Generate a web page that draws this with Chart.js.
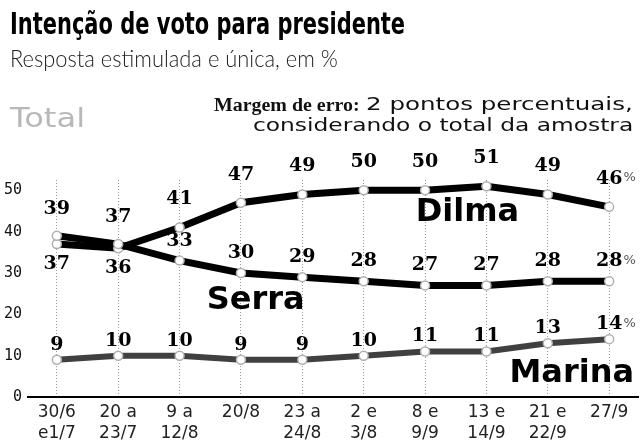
<!DOCTYPE html>
<html><head><meta charset="utf-8">
<script src="https://cdn.jsdelivr.net/npm/chart.js@4"></script>
<style>
html,body{margin:0;padding:0;background:#fff;}
#wrap{position:relative;width:644px;height:446px;overflow:hidden;background:#fff;}
#c{position:absolute;left:0;top:0;}
.t{position:absolute;white-space:nowrap;transform-origin:0 0;line-height:1;}
</style></head><body>
<div id="wrap">
<canvas id="c" width="644" height="446"></canvas>
<div class="t" id="title" data-l="10" data-w="395" style="top:8px;font-family:'DejaVu Sans';font-weight:bold;font-size:31px;color:#000">Intenção de voto para presidente</div>
<div class="t" id="sub" data-l="10" data-w="328" style="top:46px;font-family:Lato,'Open Sans';font-weight:300;font-size:24px;color:#222">Resposta estimulada e única, em %</div>
<div class="t" id="total" data-l="10" data-w="75" style="top:104px;font-family:'DejaVu Sans';font-size:27px;color:#b8b8b8">Total</div>
<div class="t" id="m1a" data-l="214" data-w="146" style="top:96px;font-family:'Liberation Serif';font-weight:bold;font-size:18px;color:#111">Margem de erro:</div>
<div class="t" id="m1b" data-r="633" data-w="267" style="top:96px;font-family:'DejaVu Sans';font-size:17px;color:#111">2 pontos percentuais,</div>
<div class="t" id="m2" data-r="633" data-w="380" style="top:117px;font-family:'DejaVu Sans';font-size:17px;color:#111">considerando o total da amostra</div>
</div>
<script>
const categories = [["30/6","e1/7"],["20 a","23/7"],["9 a","12/8"],["20/8"],["23 a","24/8"],["2 e","3/8"],["8 e","9/9"],["13 e","14/9"],["21 e","22/9"],["27/9"]];
const dilma  = [37,36,41,47,49,50,50,51,49,46];
const serra  = [39,37,33,30,29,28,27,27,28,28];
const marina = [9,10,10,9,9,10,11,11,13,14];
const yTicks = [0,10,20,30,40,50];
const seriesNames = ["Dilma","Serra","Marina"];

document.querySelectorAll('.t').forEach(el=>{
  const w = el.offsetWidth, tw = +el.dataset.w;
  el.style.transform = 'scaleX(' + (tw / w) + ')';
  if (el.dataset.r) el.style.left = (+el.dataset.r - tw) + 'px';
  else el.style.left = el.dataset.l + 'px';
});

const toPts = arr => arr.map((v,i)=>({x:i,y:v}));

const labelPlugin = {
  id:'valueLabels',
  afterDatasetsDraw(chart){
    const ctx = chart.ctx;
    const xs = chart.scales.x, ys = chart.scales.y;
    ctx.save();
    ctx.textAlign='center'; ctx.textBaseline='middle';
    chart.data.datasets.forEach((ds,di)=>{
      const meta = chart.getDatasetMeta(di);
      meta.data.forEach((pt,i)=>{
        const v = ds.data[i].y;
        let dy;
        const close = Math.abs(dilma[i] - serra[i]) <= 2;
        if (ds.key==='dilma') dy = close ? 20 : -28;
        else if (ds.key==='serra') dy = close ? -27 : -20;
        else dy = -15;
        ctx.font = 'bold 19px "DejaVu Serif"';
        ctx.fillStyle = '#000';
        const s = String(v);
        ctx.fillText(s, pt.x, pt.y + dy);
        if (i === ds.data.length-1) {
          const w = ctx.measureText(s).width;
          ctx.font = '13px "DejaVu Sans"';
          ctx.fillStyle = '#555';
          ctx.textAlign='left';
          ctx.fillText('%', pt.x + w/2 + 1, pt.y + dy - 1);
          ctx.textAlign='center';
        }
      });
    });
    ctx.font = 'bold 32px "DejaVu Sans"';
    ctx.fillStyle = '#000';
    ctx.fillText(seriesNames[0], xs.getPixelForValue(6.69), ys.getPixelForValue(44.6));
    ctx.fillText(seriesNames[1], xs.getPixelForValue(3.24), ys.getPixelForValue(23.3));
    ctx.fillText(seriesNames[2], xs.getPixelForValue(8.39), ys.getPixelForValue(5.7));
    ctx.restore();
  }
};

const common = {pointRadius:4.5, pointBackgroundColor:'#fff', pointBorderColor:'#b0b0b0', pointBorderWidth:1.5, tension:0, fill:false};

new Chart(document.getElementById('c'), {
  type:'line',
  data:{datasets:[
    Object.assign({key:'marina', data:toPts(marina), borderColor:'#404040', borderWidth:6}, common),
    Object.assign({key:'serra', data:toPts(serra), borderColor:'#000', borderWidth:7}, common),
    Object.assign({key:'dilma', data:toPts(dilma), borderColor:'#000', borderWidth:7}, common)
  ]},
  options:{
    responsive:false, animation:false, devicePixelRatio:1,
    layout:{padding:{top:180,left:0,right:0,bottom:0}},
    plugins:{legend:{display:false}, tooltip:{enabled:false}, title:{display:false}},
    scales:{
      x:{type:'linear', min:-0.47, max:9.47,
        afterBuildTicks:s=>{s.ticks = categories.map((_,i)=>({value:i}));},
        afterFit:s=>{s.height = 49;},
        grid:{display:true, color:'#999', lineWidth:1, drawTicks:false},
        border:{display:true, color:'#000', width:2, dash:[1,2]},
        ticks:{callback:v=>categories[v], font:{family:'DejaVu Sans', size:17, lineHeight:1.25}, color:'#222', padding:5, maxRotation:0, autoSkip:false}
      },
      y:{min:0, max:52.5,
        afterBuildTicks:s=>{s.ticks = yTicks.map(v=>({value:v}));},
        afterFit:s=>{s.width = 28;},
        grid:{display:false}, border:{display:false},
        ticks:{font:{family:'DejaVu Sans Mono', size:15}, color:'#111', padding:-2}
      }
    }
  },
  plugins:[labelPlugin]
});
</script>
</body></html>
